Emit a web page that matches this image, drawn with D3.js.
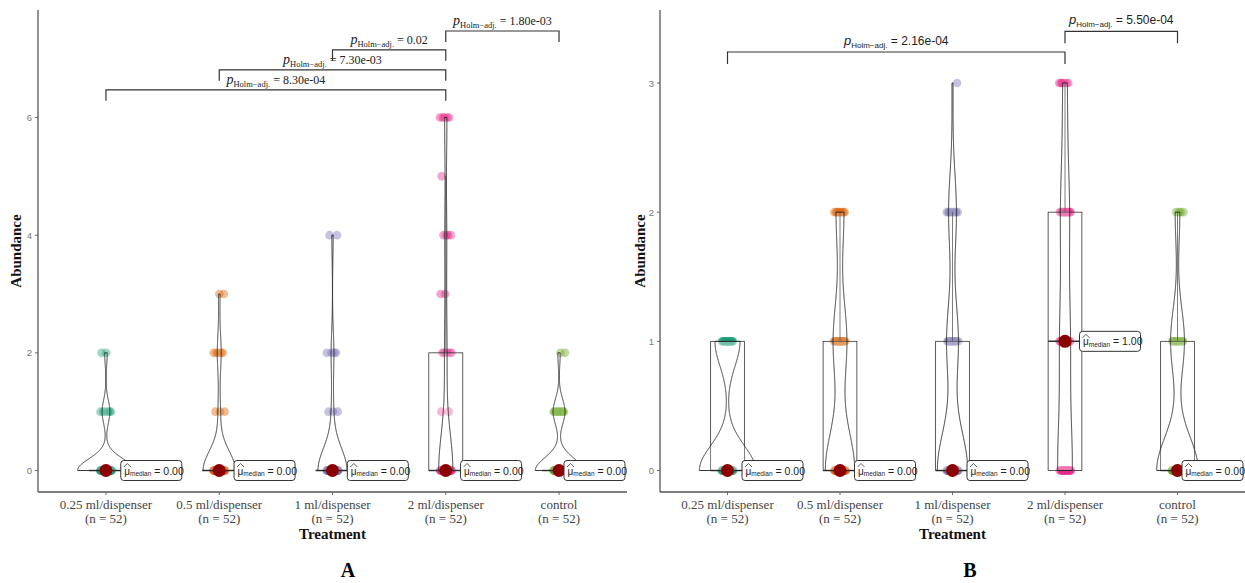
<!DOCTYPE html>
<html>
<head>
<meta charset="utf-8">
<script src="https://cdn.jsdelivr.net/npm/d3@7"></script>
<style>
body { margin: 0; background: #fff; }
text { font-family: "Liberation Serif", "Times New Roman", serif; }
</style>
</head>
<body>
<svg id="chart" width="1245" height="583"></svg>
<script>
// ---- data ----
var treatments = ["0.25 ml/dispenser", "0.5 ml/dispenser", "1 ml/dispenser", "2 ml/dispenser", "control"];
var sampleN = [52, 52, 52, 52, 52];
var pointColors = ["#1B9E77", "#D95F02", "#7570B3", "#E7298A", "#66A61E"];

// panel A: abundance levels and how many samples sit on each level, per treatment
var levelsA = [0, 1, 2, 3, 4, 5, 6];
var countsA = [
  [44, 6, 2, 0, 0, 0, 0],
  [42, 3, 5, 2, 0, 0, 0],
  [43, 3, 4, 0, 2, 0, 0],
  [33, 2, 5, 2, 4, 1, 5],
  [40, 10, 2, 0, 0, 0, 0]
];
var yTicksA = [0, 2, 4, 6];
var pairsA = [[0, 3], [1, 3], [2, 3], [3, 4]];
var pValuesA = ["8.30e-04", "7.30e-03", "0.02", "1.80e-03"];

// panel B
var levelsB = [0, 1, 2, 3];
var countsB = [
  [36, 16, 0, 0],
  [30, 14, 8, 0],
  [31, 12, 8, 1],
  [20, 14, 12, 6],
  [36, 12, 4, 0]
];
var yTicksB = [0, 1, 2, 3];
var pairsB = [[0, 3], [3, 4]];
var pValuesB = ["2.16e-04", "5.50e-04"];

var SERIF = '"Liberation Serif", "Times New Roman", serif';
var SANS = '"Liberation Sans", Arial, sans-serif';

var svg = d3.select("#chart");
svg.append("rect").attr("width", 1245).attr("height", 583).attr("fill", "#fff");

function bwNrd0(v) {
  var hi = d3.deviation(v);
  var iqr = d3.quantile(v, 0.75) - d3.quantile(v, 0.25);
  var lo = Math.min(hi, iqr / 1.34);
  if (!lo) lo = hi || Math.abs(v[0]) || 1;
  return 0.9 * lo * Math.pow(v.length, -0.2);
}

// gaussian kde, trimmed to the data range (like geom_violin trim = TRUE)
function kde(v) {
  var bw = bwNrd0(v), lo = d3.min(v), hi = d3.max(v), n = v.length;
  return d3.range(512).map(function(k) {
    var t = lo + (hi - lo) * k / 511;
    var s = d3.sum(v, function(x) { var z = (t - x) / bw; return Math.exp(-0.5 * z * z); });
    return [t, s / (n * bw * Math.sqrt(2 * Math.PI))];
  });
}

function drawPanel(cfg) {
  var g = svg.append("g");
  var x = d3.scalePoint().domain(treatments).range([cfg.left, cfg.right]).padding(0.6);
  var step = x.step();
  var y = d3.scaleLinear().domain([0, cfg.yMax]).range([cfg.zeroPx, cfg.maxPx]);

  var groups = treatments.map(function(t, i) {
    var vals = [];
    cfg.counts[i].forEach(function(c, j) {
      for (var k = 0; k < c; k++) vals.push(cfg.levels[j]);
    });
    var q1 = d3.quantile(vals, 0.25), q3 = d3.quantile(vals, 0.75);
    var iqr = q3 - q1;
    return {
      name: t, i: i, values: vals, dens: kde(vals),
      q1: q1, q3: q3, med: d3.median(vals),
      lo: d3.min(vals.filter(function(v) { return v >= q1 - 1.5 * iqr; })),
      hi: d3.max(vals.filter(function(v) { return v <= q3 + 1.5 * iqr; }))
    };
  });
  var maxD = d3.max(groups, function(gr) { return d3.max(gr.dens, function(d) { return d[1]; }); });
  var vw = d3.scaleLinear().domain([0, maxD]).range([0, step * 0.25]);

  // axes
  g.append("line").attr("x1", cfg.left).attr("x2", cfg.left).attr("y1", cfg.top).attr("y2", cfg.bottom)
    .attr("stroke", "#555").attr("stroke-width", 1.3);
  g.append("line").attr("x1", cfg.left).attr("x2", cfg.right).attr("y1", cfg.bottom).attr("y2", cfg.bottom)
    .attr("stroke", "#555").attr("stroke-width", 1.3);
  cfg.yTicks.forEach(function(t) {
    g.append("line").attr("x1", cfg.left - 3).attr("x2", cfg.left).attr("y1", y(t)).attr("y2", y(t))
      .attr("stroke", "#666").attr("stroke-width", 1);
    g.append("text").attr("x", cfg.left - 6).attr("y", y(t) + 3.5).attr("text-anchor", "end")
      .style("font-family", SANS).attr("font-size", 9.5).attr("fill", "#777").text(t);
  });
  treatments.forEach(function(t, i) {
    g.append("line").attr("x1", x(t)).attr("x2", x(t)).attr("y1", cfg.bottom).attr("y2", cfg.bottom + 3)
      .attr("stroke", "#666").attr("stroke-width", 1);
    g.append("text").attr("x", x(t)).attr("y", cfg.bottom + 17).attr("text-anchor", "middle")
      .attr("font-size", 13).attr("fill", "#444").text(t);
    g.append("text").attr("x", x(t)).attr("y", cfg.bottom + 31).attr("text-anchor", "middle")
      .attr("font-size", 13).attr("fill", "#444").text("(n = " + sampleN[i] + ")");
  });
  g.append("text").attr("x", x(treatments[2])).attr("y", cfg.bottom + 47).attr("text-anchor", "middle")
    .attr("font-size", 15).attr("font-weight", "bold").attr("fill", "#111").text("Treatment");
  g.append("text").attr("transform", "translate(" + cfg.yTitleX + "," + ((cfg.top + cfg.bottom) / 2) + ") rotate(-90)")
    .attr("text-anchor", "middle").attr("font-size", 15).attr("font-weight", "bold").attr("fill", "#111").text("Abundance");
  g.append("text").attr("x", cfg.tagX).attr("y", 577).attr("text-anchor", "middle")
    .attr("font-size", 20).attr("font-weight", "bold").attr("fill", "#000").text(cfg.tag);

  // jittered points
  groups.forEach(function(gr) {
    var cx = x(gr.name);
    g.append("g").selectAll("circle").data(gr.values).enter().append("circle")
      .attr("cx", function(d, k) { return cx + ((((k + 1) * 0.618034 + gr.i * 0.37) % 1) - 0.5) * 12; })
      .attr("cy", function(d) { return y(d); })
      .attr("r", 4.3)
      .attr("fill", pointColors[gr.i]).attr("fill-opacity", 0.42);
  });

  // boxplots
  groups.forEach(function(gr) {
    var cx = x(gr.name), hw = step * 0.15;
    var bg = g.append("g").attr("stroke", "#333").attr("stroke-width", 0.8);
    bg.append("line").attr("x1", cx).attr("x2", cx).attr("y1", y(gr.q3)).attr("y2", y(gr.hi));
    bg.append("line").attr("x1", cx).attr("x2", cx).attr("y1", y(gr.q1)).attr("y2", y(gr.lo));
    bg.append("rect").attr("x", cx - hw).attr("width", hw * 2)
      .attr("y", y(gr.q3)).attr("height", y(gr.q1) - y(gr.q3))
      .attr("fill", "#fff").attr("fill-opacity", 0.2);
    bg.append("line").attr("x1", cx - hw).attr("x2", cx + hw).attr("y1", y(gr.med)).attr("y2", y(gr.med))
      .attr("stroke-width", 1.5);
  });

  // violins
  groups.forEach(function(gr) {
    var cx = x(gr.name);
    var area = d3.area()
      .y(function(d) { return y(d[0]); })
      .x0(function(d) { return cx - vw(d[1]); })
      .x1(function(d) { return cx + vw(d[1]); });
    g.append("path").attr("d", area(gr.dens) + "Z")
      .attr("fill", "#fff").attr("fill-opacity", 0.2)
      .attr("stroke", "#222").attr("stroke-width", 0.9);
  });

  // pairwise brackets
  cfg.pairs.forEach(function(p, i) {
    var xa = x(treatments[p[0]]), xb = x(treatments[p[1]]), yy = y(cfg.bracketY[i]);
    g.append("path")
      .attr("d", "M" + xa + "," + (yy + cfg.drop) + "V" + yy + "H" + xb + "V" + (yy + cfg.drop))
      .attr("fill", "none").attr("stroke", "#333").attr("stroke-width", 1.2);
    var t = g.append("text").attr("x", (xa + xb) / 2).attr("y", yy - cfg.labelGap)
      .attr("text-anchor", "middle").style("font-family", cfg.pFont).attr("fill", "#222");
    t.append("tspan").attr("font-style", "italic").attr("font-size", cfg.pSize).text("p");
    t.append("tspan").attr("font-size", cfg.subSize).attr("dy", 3).text("Holm\u2212adj.");
    t.append("tspan").attr("font-size", cfg.valSize).attr("dy", -3).text(" = " + cfg.pValues[i]);
  });

  // median point and label
  groups.forEach(function(gr) {
    var cx = x(gr.name), my = y(gr.med);
    g.append("circle").attr("cx", cx).attr("cy", my).attr("r", 6.5).attr("fill", "#8B0000");
    var bw = 61, bh = 20;
    var bx = Math.min(cx + step * 0.4 - bw / 2, cfg.right - 2 - bw);
    g.append("rect").attr("x", bx).attr("y", my - bh / 2).attr("width", bw).attr("height", bh)
      .attr("rx", 3).attr("fill", "#fff").attr("stroke", "#333").attr("stroke-width", 1);
    var tx = bx + 3.5;
    var t = g.append("text").attr("x", tx).attr("y", my + 4).style("font-family", SANS).attr("fill", "#222");
    t.append("tspan").attr("font-size", 10).text("\u03bc");
    t.append("tspan").attr("font-size", 6.5).attr("dy", 1.5).text("median");
    t.append("tspan").attr("font-size", 10.5).attr("dy", -1.5).text(" = " + gr.med.toFixed(2));
    g.append("path").attr("d", "M" + (tx - 0.5) + "," + (my - 3.5) + "L" + (tx + 3) + "," + (my - 7) + "L" + (tx + 6.5) + "," + (my - 3.5))
      .attr("fill", "none").attr("stroke", "#333").attr("stroke-width", 0.8);
  });
}

drawPanel({
  left: 38, right: 627, top: 10, bottom: 492,
  yMax: 6, zeroPx: 470.5, maxPx: 117.5,
  levels: levelsA, counts: countsA, yTicks: yTicksA,
  pairs: pairsA, pValues: pValuesA, bracketY: [6.47, 6.81, 7.15, 7.47],
  drop: 11, labelGap: 6, pFont: SERIF, pSize: 14, subSize: 8.5, valSize: 12,
  yTitleX: 21, tag: "A", tagX: 348
});

drawPanel({
  left: 660, right: 1245, top: 10, bottom: 492,
  yMax: 3, zeroPx: 470.5, maxPx: 83,
  levels: levelsB, counts: countsB, yTicks: yTicksB,
  pairs: pairsB, pValues: pValuesB, bracketY: [3.24, 3.40],
  drop: 12, labelGap: 7, pFont: SANS, pSize: 13, subSize: 8, valSize: 12,
  yTitleX: 645, tag: "B", tagX: 970
});
</script>
</body>
</html>
